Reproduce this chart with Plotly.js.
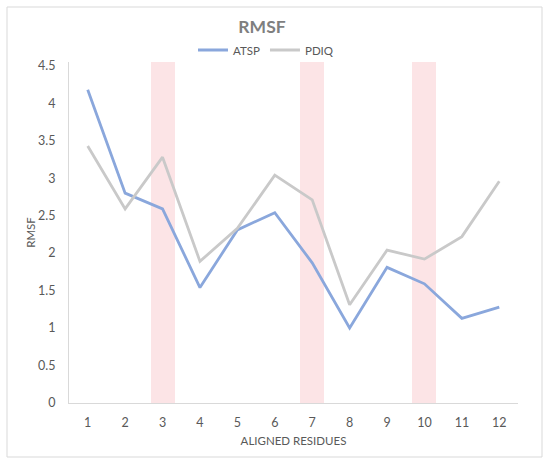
<!DOCTYPE html>
<html>
<head>
<meta charset="utf-8">
<script src="https://cdn.plot.ly/plotly-3.0.1.min.js"></script>
<style>
  html, body { margin: 0; padding: 0; background: #fff; }
  #chart { width: 550px; height: 464px; }
</style>
</head>
<body>
<div id="chart"></div>
<script>
// residues along the alignment
var residues = [1, 2, 3, 4, 5, 6, 7, 8, 9, 10, 11, 12];
var atsp = [4.18, 2.80, 2.59, 1.54, 2.31, 2.54, 1.87, 1.00, 1.81, 1.59, 1.13, 1.28];
var pdiq = [3.43, 2.59, 3.28, 1.89, 2.33, 3.04, 2.71, 1.31, 2.04, 1.92, 2.22, 2.96];
// highlighted positions (pink background bars)
var highlight = [0, 0, 4.55, 0, 0, 0, 4.55, 0, 0, 4.55, 0, 0];
var yTicks = [0, 0.5, 1, 1.5, 2, 2.5, 3, 3.5, 4, 4.5];

var W = 550, H = 464;
var m = {l: 69, r: 32, t: 62, b: 61};
var pw = W - m.l - m.r, ph = H - m.t - m.b;
function px(x) { return (x - m.l) / pw; }
function py(y) { return (H - m.b - y) / ph; }

var font = '"Lato", "Liberation Sans", sans-serif';

var traces = [
  {
    x: residues, y: highlight, type: 'bar', width: 0.64,
    marker: {color: '#fce4e6'}, showlegend: false, hoverinfo: 'skip'
  },
  {
    x: residues, y: atsp, type: 'scatter', mode: 'lines', name: 'ATSP',
    line: {color: '#8aa7dc', width: 2.8}
  },
  {
    x: residues, y: pdiq, type: 'scatter', mode: 'lines', name: 'PDIQ',
    line: {color: '#c9c9c9', width: 2.8}
  }
];

var layout = {
  width: W, height: H,
  margin: m,
  paper_bgcolor: '#fff', plot_bgcolor: '#fff',
  font: {family: font, size: 12.5, color: '#595959'},
  title: {
    text: '<b>RMSF</b>', x: px(262), xref: 'paper', xanchor: 'center',
    y: 1 - 27 / H, yanchor: 'middle',
    font: {family: font, size: 17.5, color: '#7f7f7f'}
  },
  showlegend: true,
  legend: {
    orientation: 'h', x: px(266), xanchor: 'center', y: py(50), yanchor: 'middle',
    font: {family: font, size: 11.5, color: '#595959'},
    itemwidth: 30, traceorder: 'normal', bgcolor: 'rgba(0,0,0,0)'
  },
  xaxis: {
    range: [0.5, 12.5], tickmode: 'array', tickvals: residues,
    ticktext: residues.map(String),
    showgrid: false, zeroline: false, showline: true,
    linecolor: '#d9d9d9', linewidth: 1,
    ticks: 'outside', ticklen: 8, tickcolor: 'rgba(0,0,0,0)',
    title: {text: 'ALIGNED RESIDUES', standoff: 7,
            font: {family: font, size: 11.5, color: '#595959'}}
  },
  yaxis: {
    range: [0, 4.55], tickmode: 'array', tickvals: yTicks,
    ticktext: yTicks.map(String),
    showgrid: false, zeroline: false, showline: true,
    linecolor: '#d9d9d9', linewidth: 1,
    ticks: 'outside', ticklen: 10, tickcolor: 'rgba(0,0,0,0)',
    title: {text: 'RMSF', standoff: 0,
            font: {family: font, size: 11.5, color: '#595959'}}
  },
  bargap: 0,
  shapes: [{
    type: 'rect', xref: 'paper', yref: 'paper', layer: 'below',
    x0: px(7), x1: px(542), y0: py(457), y1: py(7),
    line: {color: '#d9d9d9', width: 1}, fillcolor: 'rgba(0,0,0,0)'
  }]
};

Plotly.newPlot('chart', traces, layout, {displayModeBar: false, staticPlot: true});
</script>
</body>
</html>
